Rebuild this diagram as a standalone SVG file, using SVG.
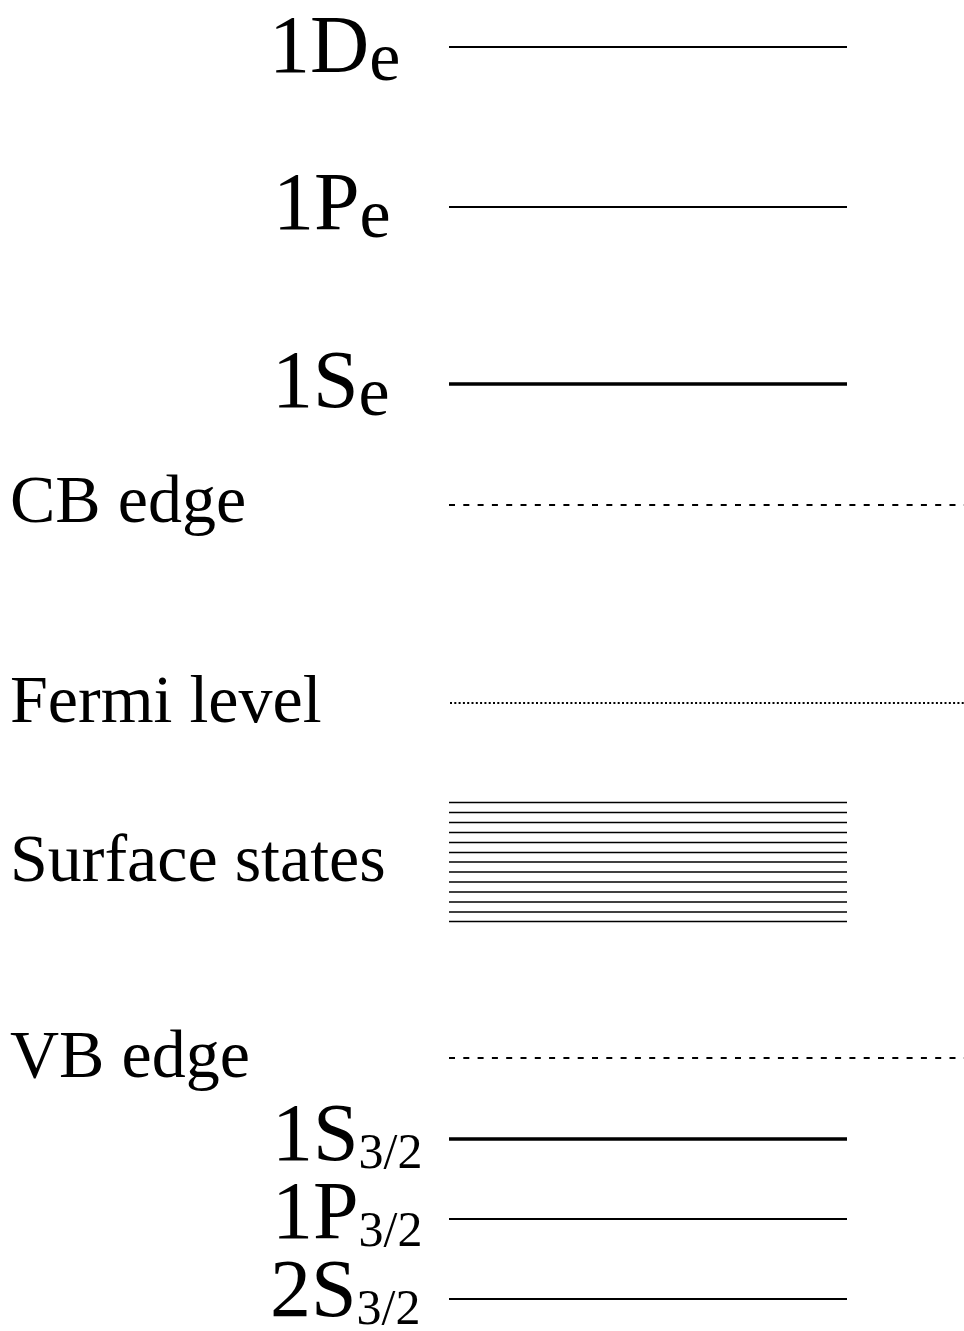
<svg xmlns="http://www.w3.org/2000/svg" width="964" height="1331" viewBox="0 0 964 1331">
<style>
text{font-family:"Liberation Serif","Times New Roman",serif;fill:#000}
.big{font-size:82px}
.sub{font-size:70px}
.sub2{font-size:50px}
.lbl{font-size:68px}
.lvl{stroke:#000;stroke-width:2;fill:none}
.thick{stroke:#000;stroke-width:3.5;fill:none}
.dash{stroke:#000;stroke-width:2;stroke-dasharray:6 8.3;fill:none}
.dot{stroke:#000;stroke-width:2;stroke-dasharray:2 2.3;fill:none}
.ss{stroke:#000;stroke-width:1.5;fill:none}
</style>
<rect width="964" height="1331" fill="#fff"/>
<g id="level-1De">
<text class="big" x="269" y="72">1D<tspan class="sub" dy="8">e</tspan></text>
<line class="lvl" x1="449" y1="47" x2="847" y2="47"/>
</g>
<g id="level-1Pe">
<text class="big" x="273" y="229">1P<tspan class="sub" dy="8">e</tspan></text>
<line class="lvl" x1="449" y1="207" x2="847" y2="207"/>
</g>
<g id="level-1Se">
<text class="big" x="272" y="407">1S<tspan class="sub" dy="8">e</tspan></text>
<line class="thick" x1="449" y1="384" x2="847" y2="384"/>
</g>
<g id="cb-edge">
<text class="lbl" x="10" y="522">CB edge</text>
<line class="dash" x1="449" y1="505" x2="964" y2="505"/>
</g>
<g id="fermi-level">
<text class="lbl" x="10" y="722">Fermi level</text>
<line class="dot" x1="450" y1="703" x2="964" y2="703"/>
</g>
<g id="surface-states">
<text class="lbl" x="10" y="881">Surface states</text>
<g class="ss">
<line x1="449" y1="802.5" x2="847" y2="802.5"/>
<line x1="449" y1="812.5" x2="847" y2="812.5"/>
<line x1="449" y1="822.5" x2="847" y2="822.5"/>
<line x1="449" y1="832.5" x2="847" y2="832.5"/>
<line x1="449" y1="842.5" x2="847" y2="842.5"/>
<line x1="449" y1="852.5" x2="847" y2="852.5"/>
<line x1="449" y1="862" x2="847" y2="862"/>
<line x1="449" y1="872" x2="847" y2="872"/>
<line x1="449" y1="882" x2="847" y2="882"/>
<line x1="449" y1="892" x2="847" y2="892"/>
<line x1="449" y1="902" x2="847" y2="902"/>
<line x1="449" y1="912" x2="847" y2="912"/>
<line x1="449" y1="921.5" x2="847" y2="921.5"/>
</g>
</g>
<g id="vb-edge">
<text class="lbl" x="10" y="1077">VB edge</text>
<line class="dash" x1="449" y1="1058" x2="964" y2="1058"/>
</g>
<g id="level-1S32">
<text class="big" x="272" y="1160">1S<tspan class="sub2" dy="8">3/2</tspan></text>
<line class="thick" x1="449" y1="1139" x2="847" y2="1139"/>
</g>
<g id="level-1P32">
<text class="big" x="272" y="1238">1P<tspan class="sub2" dy="8">3/2</tspan></text>
<line class="lvl" x1="449" y1="1219" x2="847" y2="1219"/>
</g>
<g id="level-2S32">
<text class="big" x="270" y="1316">2S<tspan class="sub2" dy="8">3/2</tspan></text>
<line class="lvl" x1="449" y1="1299" x2="847" y2="1299"/>
</g>
</svg>
